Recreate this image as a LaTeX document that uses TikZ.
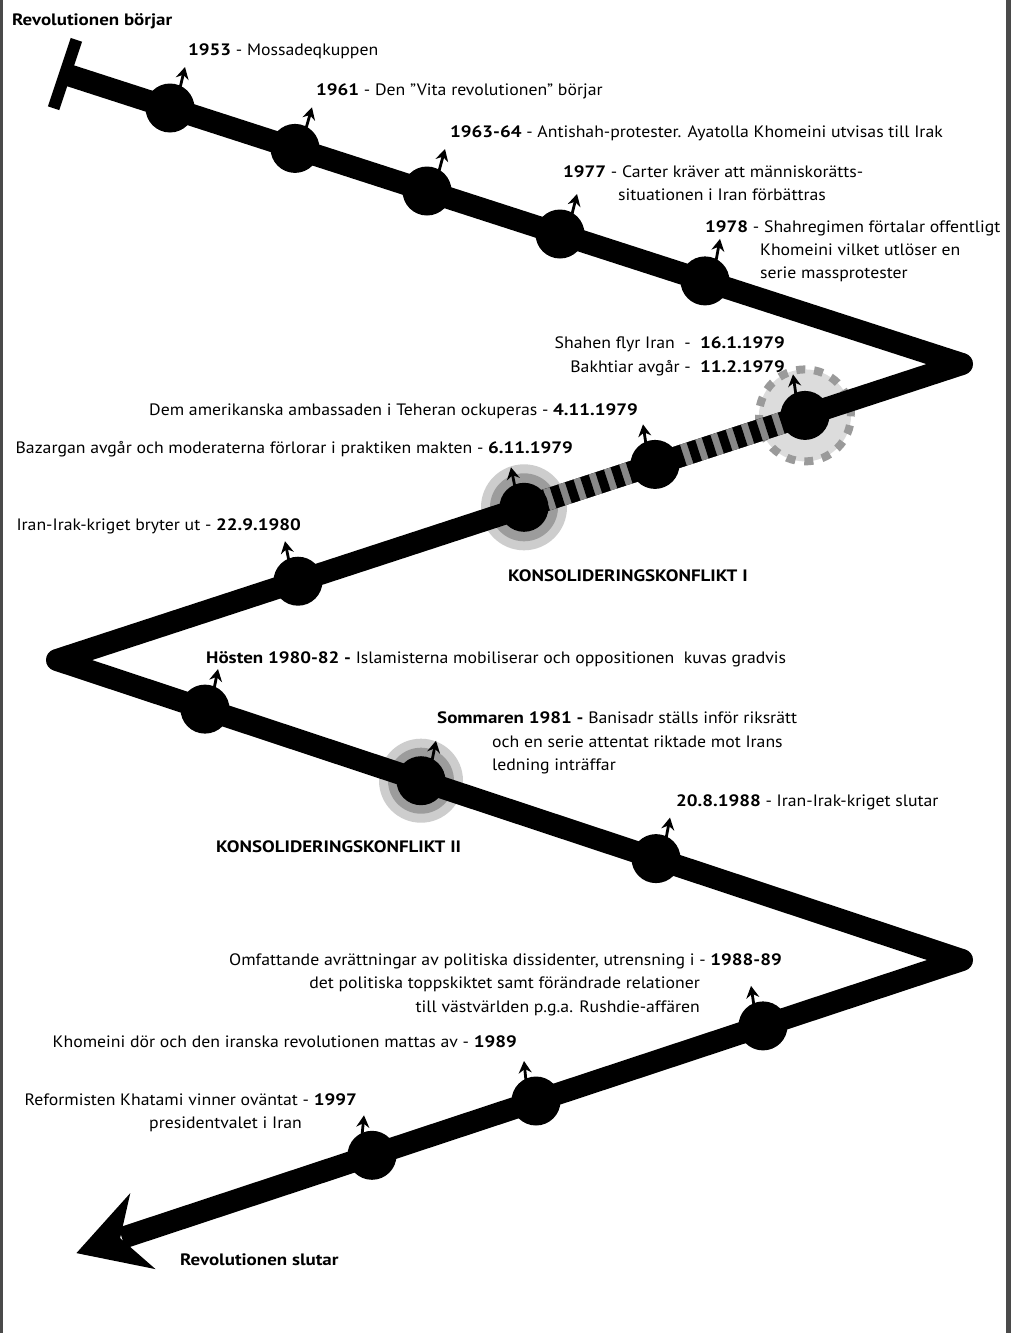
\documentclass[tikz,border=0pt]{standalone}
\usepackage{fontspec}
\setmainfont{PT Sans}[FakeStretch=1.075, BoldFeatures={FakeStretch=1.15}]
\usetikzlibrary{arrows.meta}
\definecolor{framegray}{HTML}{4A4A4A}
\definecolor{ringfill}{HTML}{DCDCDC}
\definecolor{ringdash}{HTML}{9A9A9A}
\definecolor{haloout}{HTML}{CDCDCD}
\definecolor{haloin}{HTML}{9C9C9C}
\definecolor{stripegray}{HTML}{888888}
\newcommand{\lblfont}{\fontsize{16.5}{20}\selectfont}
\newcommand{\mkarr}[5]{\draw[mk] ([shift={(#2,#3)}]#1.center) -- ([shift={(#4,#5)}]#1.center);}
\begin{document}
\begin{tikzpicture}[x=1pt,y=-1pt,
  track/.style={line width=22pt, line join=round, line cap=butt},
  dot/.style={circle, fill=black, minimum size=49pt, inner sep=0pt, outer sep=0pt},
  mk/.style={line width=2.8pt, -{Stealth[length=12pt,width=13pt,inset=4pt]}},
  lbl/.style={font=\lblfont, inner sep=0pt, text=black},
  halo/.style={circle, inner sep=0pt, outer sep=0pt}]
\useasboundingbox (0,0) rectangle (1011,1333);
\fill[white] (0,0) rectangle (1011,1333);
\fill[framegray] (0,0) rectangle (3,1333);
\fill[framegray] (1006,0) rectangle (1011,1333);

% path corners
\coordinate (p0) at (65,74);
\coordinate (p1) at (962,364);
\coordinate (p2) at (57,660);
\coordinate (p3) at (962,960);
\coordinate (p4) at (122,1238);

% event positions
\coordinate (q1) at (170,108);
\coordinate (q2) at (295,148.4);
\coordinate (q3) at (427,191);
\coordinate (q4) at (560,234);
\coordinate (q5) at (705,280.9);
\coordinate (q6) at (805,415.4);
\coordinate (q7) at (655,464.4);
\coordinate (q8) at (524,507.3);
\coordinate (q9) at (298,581.2);
\coordinate (q10) at (205,709.1);
\coordinate (q11) at (421,780.7);
\coordinate (q12) at (656,858.6);
\coordinate (q13) at (763,1025.9);
\coordinate (q14) at (536,1101);
\coordinate (q15) at (372,1155.3);

% halos
\node[halo, fill=ringfill, draw=ringdash, line width=8pt, dash pattern=on 9pt off 9pt, minimum size=92pt] (h6) at (q6) {};
\node[halo, fill=haloout, minimum size=86pt] (h8o) at (q8) {};
\node[halo, fill=haloin, minimum size=68pt] (h8i) at (q8) {};
\node[halo, fill=haloout, minimum size=84pt] (h11o) at (q11) {};
\node[halo, fill=haloin, minimum size=66pt] (h11i) at (q11) {};

% the track
\draw[track] (p0) -- (p1) -- (p2) -- (p3) -- (p4);
\draw[track, stripegray] (q6) -- (q8);
\draw[track, dash pattern=on 9pt off 7pt] (q6) -- (q8);

% start bar and end arrow
\draw[line width=12pt] (76.4,39.8) -- (53.6,108.2);
\fill (76.4,1253.1) -- (130.3,1193.1) -- (120.1,1238.1) -- (155.5,1269.1) -- cycle;

% event dots
\foreach \i in {1,...,15} {\node[dot] (c\i) at (q\i) {};}

% markers
\mkarr{c1}{10}{-20}{15}{-41}
\mkarr{c2}{11}{-20}{17}{-41}
\mkarr{c3}{12}{-20}{18}{-42}
\mkarr{c4}{12}{-20}{17}{-40}
\mkarr{c5}{11}{-20}{15}{-42}
\mkarr{c6}{-9}{-20}{-12}{-41}
\mkarr{c7}{-9}{-20}{-12}{-40}
\mkarr{c8}{-9}{-20}{-13}{-40}
\mkarr{c9}{-9}{-20}{-13}{-40}
\mkarr{c10}{9}{-20}{13}{-40}
\mkarr{c11}{11}{-20}{15}{-40}
\mkarr{c12}{10}{-20}{14}{-41}
\mkarr{c13}{-9}{-20}{-12}{-40}
\mkarr{c14}{-10}{-20}{-12}{-40}
\mkarr{c15}{-10}{-20}{-8}{-40}

% labels
\node[lbl, anchor=base west] (t0) at (12,25) {\textbf{Revolutionen börjar}};
\node[lbl, anchor=base west] (t1) at (188,55) {\textbf{1953} - Mossadeqkuppen};
\node[lbl, anchor=base west] (t2) at (316,95) {\textbf{1961} - Den "Vita revolutionen" börjar};
\node[lbl, anchor=base west] (t3) at (450,137) {\textbf{1963-64} - Antishah-protester. Ayatolla Khomeini utvisas till Irak};
\node[lbl, anchor=base west] (t4a) at (563,177) {\textbf{1977} - Carter kräver att människorätts-};
\node[lbl, anchor=base west] (t4b) at (618,200) {situationen i Iran förbättras};
\node[lbl, anchor=base west] (t5a) at (705,232) {\textbf{1978} - Shahregimen förtalar offentligt};
\node[lbl, anchor=base west] (t5b) at (760,255) {Khomeini vilket utlöser en};
\node[lbl, anchor=base west] (t5c) at (760,278) {serie massprotester};
\node[lbl, anchor=base east] (t6a) at (785,348) {Shahen flyr Iran\ \ -\ \ \textbf{16.1.1979}};
\node[lbl, anchor=base east] (t6b) at (785,372) {Bakhtiar avgår -\ \ \textbf{11.2.1979}};
\node[lbl, anchor=base east] (t7) at (638,415) {Dem amerikanska ambassaden i Teheran ockuperas - \textbf{4.11.1979}};
\node[lbl, anchor=base east] (t8) at (573,453) {Bazargan avgår och moderaterna förlorar i praktiken makten - \textbf{6.11.1979}};
\node[lbl, anchor=base east] (t9) at (301,530) {Iran-Irak-kriget bryter ut - \textbf{22.9.1980}};
\node[lbl, anchor=base west] (t10) at (508,581) {\textbf{KONSOLIDERINGSKONFLIKT I}};
\node[lbl, anchor=base west] (t11) at (206,663) {\textbf{Hösten 1980-82 -} Islamisterna mobiliserar och oppositionen\ \ kuvas gradvis};
\node[lbl, anchor=base west] (t12a) at (437,723) {\textbf{Sommaren 1981 -} Banisadr ställs inför riksrätt};
\node[lbl, anchor=base west] (t12b) at (492,747) {och en serie attentat riktade mot Irans};
\node[lbl, anchor=base west] (t12c) at (492,770) {ledning inträffar};
\node[lbl, anchor=base west] (t13) at (216,852) {\textbf{KONSOLIDERINGSKONFLIKT II}};
\node[lbl, anchor=base west] (t14) at (676,806) {\textbf{20.8.1988} - Iran-Irak-kriget slutar};
\node[lbl, anchor=base east] (t15a) at (782,965) {Omfattande avrättningar av politiska dissidenter, utrensning i - \textbf{1988-89}};
\node[lbl, anchor=base east] (t15b) at (700,988) {det politiska toppskiktet samt förändrade relationer};
\node[lbl, anchor=base east] (t15c) at (700,1012) {till västvärlden p.g.a. Rushdie-affären};
\node[lbl, anchor=base east] (t16) at (517,1047) {Khomeini dör och den iranska revolutionen mattas av - \textbf{1989}};
\node[lbl, anchor=base east] (t17a) at (357,1105) {Reformisten Khatami vinner oväntat - \textbf{1997}};
\node[lbl, anchor=base west] (t17b) at (149,1128) {presidentvalet i Iran};
\node[lbl, anchor=base west] (t18) at (180,1265) {\textbf{Revolutionen slutar}};
\end{tikzpicture}
\end{document}
